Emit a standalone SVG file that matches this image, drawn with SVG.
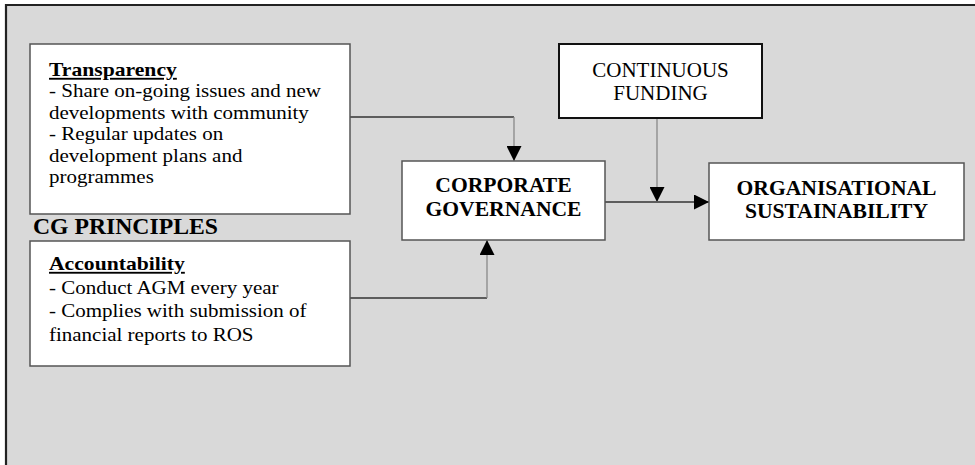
<svg xmlns="http://www.w3.org/2000/svg" width="975" height="465" viewBox="0 0 975 465">
<style>
.box{fill:#fff;stroke:#555;stroke-width:1.5}
.reg{font-family:"Liberation Serif","Times New Roman",serif;font-size:21px;fill:#000}
.body{font-family:"Liberation Serif","Times New Roman",serif;font-size:18.5px;fill:#000}
.hd{font-family:"Liberation Serif","Times New Roman",serif;font-size:18.5px;font-weight:bold;fill:#000;text-decoration:underline}
.bold{font-family:"Liberation Serif","Times New Roman",serif;font-size:21.6px;font-weight:bold;fill:#000}
.ln{fill:none;stroke:#333;stroke-width:1.3}
.lg{fill:none;stroke:#888;stroke-width:1.3}
</style>
<defs>
<marker id="arr" markerUnits="userSpaceOnUse" markerWidth="16" markerHeight="15" refX="15" refY="7.5" orient="auto" viewBox="0 0 16 15">
<path d="M0,0 L15,7.5 L0,15 z" fill="#000"/>
</marker>
</defs>
<rect x="0" y="0" width="975" height="465" fill="#fff"/>
<rect x="6" y="5" width="969" height="460" fill="#d9d9d9"/>
<path d="M6,465 V5 H975" fill="none" stroke="#222" stroke-width="2.2"/>

<g id="connectors">
<path class="ln" d="M350,117 H514"/>
<path class="lg" d="M514,117 V161" marker-end="url(#arr)"/>
<path class="ln" d="M350,298 H487"/>
<path class="lg" d="M487,298 V240" marker-end="url(#arr)"/>
<path class="ln" d="M605,202 H709" marker-end="url(#arr)"/>
<path class="lg" d="M657,118 V202" marker-end="url(#arr)"/>
</g>

<g id="transparency">
<rect class="box" x="30" y="44" width="320" height="170"/>
<text class="hd" transform="translate(49,76) scale(1.17,1)" x="0" y="0">Transparency</text>
<g transform="translate(49,0) scale(1.135,1)">
<text class="body" x="0" y="97.5">- Share on-going issues and new</text>
<text class="body" x="0" y="119">developments with community</text>
<text class="body" x="0" y="140.5">- Regular updates on</text>
<text class="body" x="0" y="162">development plans and</text>
<text class="body" x="0" y="183.5">programmes</text>
</g>
</g>

<g id="cg-principles">
<text class="bold" x="33" y="234" style="font-size:23.7px">CG PRINCIPLES</text>
</g>

<g id="accountability">
<rect class="box" x="30" y="241" width="320" height="125"/>
<text class="hd" transform="translate(49,270) scale(1.17,1)" x="0" y="0">Accountability</text>
<g transform="translate(49,0) scale(1.135,1)">
<text class="body" x="0" y="294">- Conduct AGM every year</text>
<text class="body" x="0" y="317.5">- Complies with submission of</text>
<text class="body" x="0" y="341">financial reports to ROS</text>
</g>
</g>

<g id="corporate-governance">
<rect class="box" x="402" y="161" width="203" height="79"/>
<text class="bold" x="503.5" y="192" text-anchor="middle">CORPORATE</text>
<text class="bold" x="503.5" y="216" text-anchor="middle">GOVERNANCE</text>
</g>

<g id="continuous-funding">
<rect x="559" y="44" width="203" height="74" fill="#fff" stroke="#111" stroke-width="2"/>
<text class="reg" x="660.5" y="77" text-anchor="middle">CONTINUOUS</text>
<text class="reg" x="660.5" y="100" text-anchor="middle">FUNDING</text>
</g>

<g id="organisational-sustainability">
<rect class="box" x="709" y="163" width="255" height="77"/>
<text class="bold" x="836.5" y="195" text-anchor="middle">ORGANISATIONAL</text>
<text class="bold" x="836.5" y="218" text-anchor="middle">SUSTAINABILITY</text>
</g>
</svg>
